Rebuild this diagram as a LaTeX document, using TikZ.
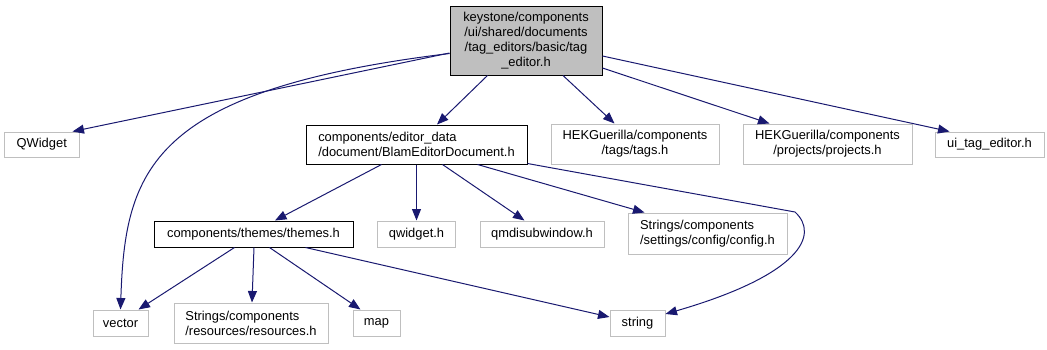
\documentclass[tikz,border=0pt]{standalone}
\usepackage{fontspec}
\setmainfont{Liberation Sans}
\usetikzlibrary{arrows.meta,calc}
\definecolor{edgeblue}{HTML}{191970}
\definecolor{boxgray}{HTML}{BFBFBF}
\tikzset{
  box/.style={draw=boxgray, line width=1pt, fill=white, inner sep=0pt, rectangle,
    font=\fontsize{12.9}{15}\selectfont},
  blackbox/.style={box, draw=black},
  mainbox/.style={box, draw=black, fill=boxgray},
  dep/.style={draw=edgeblue, line width=1pt, -{Triangle[length=11.5pt,width=9pt,fill=edgeblue]}},
}
\begin{document}
\begin{tikzpicture}[x=1pt,y=-1pt]
\useasboundingbox (0,0) rectangle (1047,349);
% nodes
\node[mainbox, minimum width=152pt, minimum height=69pt, align=center] (main) at (526,40.5)
  {keystone/components\\/ui/shared/documents\\/tag\_editors/basic/tag\\\_editor.h};
\node[box, minimum width=74.5pt, minimum height=25pt] (QWidget) at (41.75,144.5) {QWidget};
\node[blackbox, minimum width=221pt, minimum height=39pt, align=left] (Blam) at (416.5,144.5)
  {components/editor\_data\\/document/BlamEditorDocument.h};
\node[box, minimum width=168pt, minimum height=40pt, align=center] (tags) at (635,144)
  {HEKGuerilla/components\\/tags/tags.h};
\node[box, minimum width=169pt, minimum height=40pt, align=center] (projects) at (827.5,144)
  {HEKGuerilla/components\\/projects/projects.h};
\node[box, minimum width=109pt, minimum height=25pt] (ui) at (989.5,144.5) {ui\_tag\_editor.h};
\node[blackbox, minimum width=199pt, minimum height=26pt] (themes) at (253.5,234) {components/themes/themes.h};
\node[box, minimum width=78pt, minimum height=26pt] (qwidgeth) at (416.5,234) {qwidget.h};
\node[box, minimum width=124pt, minimum height=26pt] (qmdi) at (542,234) {qmdisubwindow.h};
\node[box, minimum width=159pt, minimum height=41pt, align=left] (config) at (707.5,233.5)
  {Strings/components\\/settings/config/config.h};
\node[box, minimum width=55pt, minimum height=26pt] (vector) at (120.5,323) {vector};
\node[box, minimum width=154pt, minimum height=40pt, align=left] (resources) at (251,323)
  {Strings/components\\/resources/resources.h};
\node[box, minimum width=47pt, minimum height=26pt] (map) at (376.5,323) {map};
\node[box, minimum width=55pt, minimum height=26pt] (string) at (637.5,323) {string};
% edges
\draw[dep] ($(main.west)+(0,12.5)$) -- ($(QWidget.north east)+(-7,0)$);
\draw[dep] ($(main.west)+(0,13)$) .. controls (150,90) and (125,170) .. (vector.north);
\draw[dep] ($(main.south west)+(38,0)$) -- ($(Blam.north)+(20.5,0)$);
\draw[dep] ($(main.south)+(37,0)$) -- ($(tags.north west)+(64,0)$);
\draw[dep] ($(main.east)+(0,27.5)$) -- ($(projects.north west)+(27,0)$);
\draw[dep] ($(main.east)+(0,15.5)$) -- ($(ui.north west)+(15,0)$);
\draw[dep] ($(Blam.south west)+(76,0)$) -- ($(themes.north)+(21.5,0)$);
\draw[dep] (Blam.south) -- (qwidgeth.north);
\draw[dep] ($(Blam.south west)+(137,0)$) -- ($(qmdi.north west)+(45,0)$);
\draw[dep] ($(Blam.south west)+(172,0)$) -- ($(config.north west)+(17,0)$);
\draw[dep] ($(Blam.south east)+(0,-1)$) -- (795,212) .. controls (820,235) and (800,275) .. ($(string.east)+(0,-9)$);
\draw[dep] ($(themes.south west)+(81,0)$) -- ($(vector.north east)+(-10,0)$);
\draw[dep] ($(themes.south)+(0.5,0)$) -- ($(resources.north)+(1,0)$);
\draw[dep] ($(themes.south west)+(116,0)$) -- ($(map.north west)+(8,0)$);
\draw[dep] ($(themes.south east)+(-48,0)$) -- ($(string.west)+(0,-6)$);
\end{tikzpicture}
\end{document}
